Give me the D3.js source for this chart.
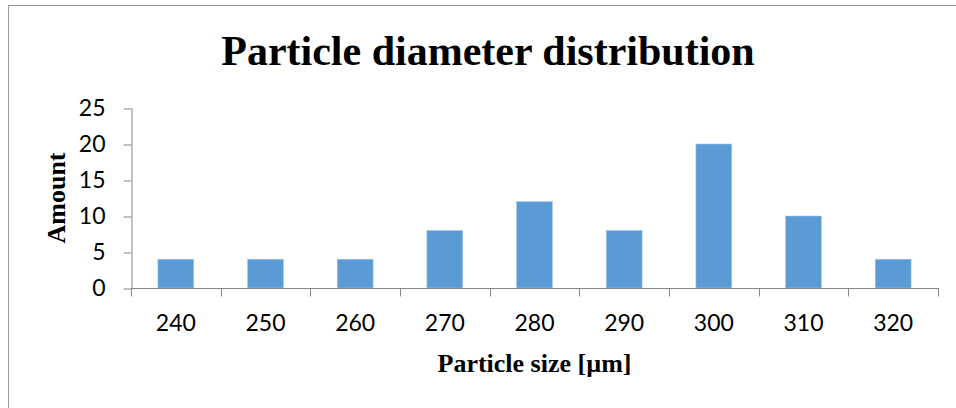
<!DOCTYPE html>
<html>
<head>
<meta charset="utf-8">
<script src="https://cdn.jsdelivr.net/npm/d3@7"></script>
<style>
  html, body { margin: 0; padding: 0; background: #fff; }
  svg { display: block; }
</style>
</head>
<body>
<svg id="chart" width="956" height="408"></svg>
<script>
// Particle size classes (µm) and how many particles fall into each
const sizes = ["240", "250", "260", "270", "280", "290", "300", "310", "320"];
const amounts = [4, 4, 4, 8, 12, 8, 20, 10, 4];
const yTicks = [0, 5, 10, 15, 20, 25];

const titleText = "Particle diameter distribution";
const xTitle = "Particle size [µm]";
const yTitle = "Amount";

const svg = d3.select("#chart");
const W = 956, H = 408;
const plot = { left: 131, right: 938, top: 108, bottom: 288 };
const axisColor = "#868686";
const barColor = "#5B9BD5";
const tickFont = "Lato, 'Open Sans', sans-serif";
const tickSize = 23;
const serif = "'Liberation Serif', 'Times New Roman', serif";

// Outer chart frame
svg.append("rect")
  .attr("x", 8.5).attr("y", 5.5)
  .attr("width", W + 10).attr("height", H + 10)
  .attr("fill", "#fff")
  .attr("stroke", "#9a9a9a").attr("stroke-width", 1);

const x = d3.scaleBand()
  .domain(sizes)
  .range([plot.left, plot.right])
  .paddingInner(0.6)
  .paddingOuter(0.3);

const y = d3.scaleLinear()
  .domain([0, 25])
  .range([plot.bottom, plot.top]);

// Bars
svg.append("g")
  .selectAll("rect")
  .data(sizes.map((s, i) => ({ s, v: amounts[i] })))
  .join("rect")
  .attr("x", d => x(d.s))
  .attr("y", d => y(d.v))
  .attr("width", x.bandwidth())
  .attr("height", d => y(0) - y(d.v))
  .attr("fill", barColor)
  .attr("stroke", "#a9c8ea")
  .attr("stroke-width", 0.6);

// Y axis
const yAxis = svg.append("g")
  .attr("transform", `translate(${plot.left + 0.5},0)`)
  .call(d3.axisLeft(y).tickValues(yTicks).tickSize(8).tickPadding(18).tickSizeOuter(0));
yAxis.select(".domain").attr("stroke", axisColor);
yAxis.selectAll(".tick line").attr("stroke", axisColor)
  .attr("transform", "translate(0,0.5)");
yAxis.selectAll(".tick text")
  .attr("font-family", tickFont).attr("font-size", tickSize).attr("fill", "#000");

// X axis: tick marks on category boundaries, labels at category centres
const bounds = d3.range(sizes.length + 1).map(i => plot.left + i * (plot.right - plot.left) / sizes.length);
const xAxisG = svg.append("g");
xAxisG.append("line")
  .attr("x1", plot.left).attr("x2", plot.right)
  .attr("y1", y(0) + 0.5).attr("y2", y(0) + 0.5)
  .attr("stroke", axisColor);
xAxisG.selectAll("line.tk")
  .data(bounds)
  .join("line")
  .attr("class", "tk")
  .attr("x1", d => Math.round(d) + 0.5).attr("x2", d => Math.round(d) + 0.5)
  .attr("y1", y(0)).attr("y2", y(0) + 8.5)
  .attr("stroke", axisColor);
xAxisG.selectAll("text")
  .data(sizes)
  .join("text")
  .attr("x", d => x(d) + x.bandwidth() / 2)
  .attr("y", 331)
  .attr("text-anchor", "middle")
  .attr("font-family", tickFont).attr("font-size", tickSize)
  .text(d => d);

// Titles
svg.append("text")
  .attr("x", 488).attr("y", 65)
  .attr("text-anchor", "middle")
  .attr("font-family", serif).attr("font-weight", "bold").attr("font-size", 42)
  .text(titleText);

svg.append("text")
  .attr("x", (plot.left + plot.right) / 2).attr("y", 372)
  .attr("text-anchor", "middle")
  .attr("font-family", serif).attr("font-weight", "bold").attr("font-size", 26)
  .text(xTitle);

svg.append("text")
  .attr("transform", `translate(65,${(plot.top + plot.bottom) / 2}) rotate(-90)`)
  .attr("text-anchor", "middle")
  .attr("font-family", serif).attr("font-weight", "bold").attr("font-size", 26)
  .text(yTitle);
</script>
</body>
</html>
